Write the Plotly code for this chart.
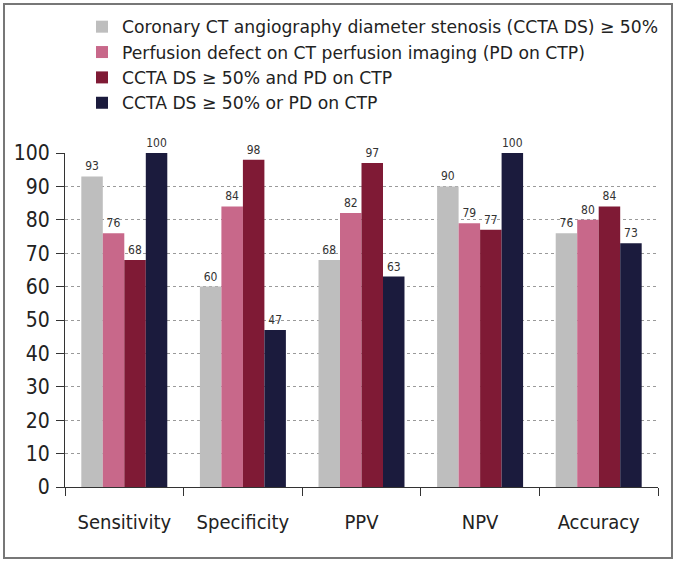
import plotly.graph_objects as go

categories = ["Sensitivity", "Specificity", "PPV", "NPV", "Accuracy"]
series_names = [
    "Coronary CT angiography diameter stenosis (CCTA DS) ≥ 50%",
    "Perfusion defect on CT perfusion imaging (PD on CTP)",
    "CCTA DS ≥ 50% and PD on CTP",
    "CCTA DS ≥ 50% or PD on CTP",
]
ccta_ds = [93, 60, 68, 90, 76]
pd_ctp = [76, 84, 82, 79, 80]
ccta_and_pd = [68, 98, 97, 77, 84]
ccta_or_pd = [100, 47, 63, 100, 73]
y_ticks = [0, 10, 20, 30, 40, 50, 60, 70, 80, 90, 100]

colors = ["#BEBEBE", "#C8688A", "#7F1A35", "#1B1B3D"]
FONT = "DejaVu Sans Condensed, Liberation Sans, Arial, sans-serif"
LEGEND_FONT = "DejaVu Sans, Liberation Sans, Arial, sans-serif"

fig = go.Figure()
for name, vals, col in zip(series_names, [ccta_ds, pd_ctp, ccta_and_pd, ccta_or_pd], colors):
    fig.add_trace(go.Bar(
        x=categories, y=vals, name=name,
        marker=dict(color=col, line=dict(width=0)),
        text=vals, textposition="outside", cliponaxis=False,
        constraintext="none",
        textfont=dict(size=12, color="#333333", family=FONT),
    ))

fig.update_layout(
    width=678, height=565,
    margin=dict(l=65, r=20, t=153, b=78, autoexpand=False),
    paper_bgcolor="white", plot_bgcolor="white",
    barmode="group", bargap=0.275, bargroupgap=0,
    font=dict(family=FONT, color="#222222"),
    showlegend=True,
    legend=dict(
        x=(82 - 65) / 593, y=(487 - 9) / 334, xanchor="left", yanchor="top",
        font=dict(size=17.2, family=LEGEND_FONT, color="#222222"),
        itemsizing="constant", tracegroupgap=0,
        bgcolor="rgba(0,0,0,0)",
    ),
    xaxis=dict(
        showline=True, linecolor="#333333", linewidth=1,
        ticks="outside", tickson="boundaries", ticklen=8, tickcolor="#333333",
        tickfont=dict(size=20, family=FONT, color="#222222"),
        ticklabelstandoff=17,
        showgrid=False,
    ),
    yaxis=dict(
        range=[0, 100], tickvals=y_ticks,
        showline=True, linecolor="#333333", linewidth=1,
        ticks="outside", ticklen=8, tickcolor="#333333",
        tickfont=dict(size=21, family=FONT, color="#222222"),
        ticklabelstandoff=2,
        showgrid=True, gridcolor="#9A9A9A", griddash="dot", gridwidth=1,
        zeroline=False,
    ),
    shapes=[dict(
        type="rect", xref="paper", yref="paper",
        x0=(4 - 65) / 593, x1=(672 - 65) / 593,
        y0=(487 - 558) / 334, y1=(487 - 4) / 334,
        line=dict(color="#777777", width=2), fillcolor="rgba(0,0,0,0)",
        layer="below",
    )],
)

fig.write_html(
    "out.html",
    config={"displayModeBar": False},
    post_script="document.body.style.margin='0';document.body.style.overflow='hidden';",
)
